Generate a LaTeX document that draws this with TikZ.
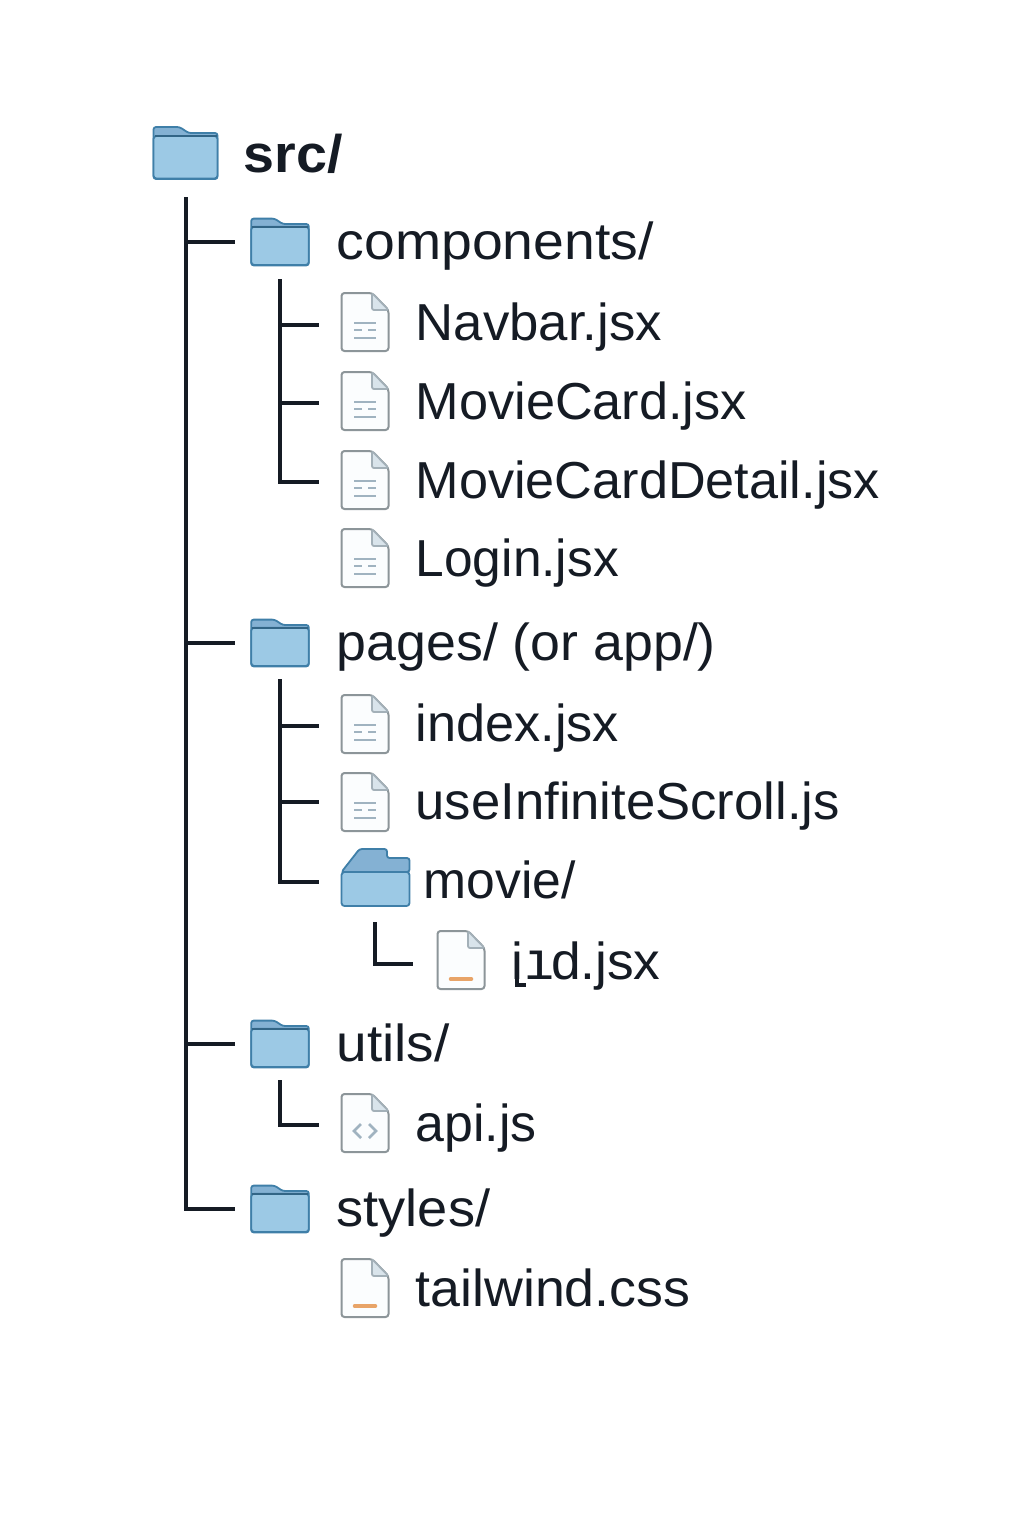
\documentclass[tikz,border=0pt]{standalone}
\usepackage{fontspec}
\setmainfont{Liberation Sans}
\newfontfamily\monof{DejaVu Sans Mono}
\definecolor{ink}{HTML}{151B24}
\definecolor{foldA}{HTML}{9CC9E5}
\definecolor{foldB}{HTML}{84B1D3}
\definecolor{foldE}{HTML}{3F7FA8}
\definecolor{fileE}{HTML}{8C9599}
\definecolor{fileF}{HTML}{FBFDFE}
\definecolor{dogE}{HTML}{A3B0B8}
\definecolor{dogF}{HTML}{D9E4EB}
\definecolor{lineC}{HTML}{A0B3C0}
\definecolor{orangeC}{HTML}{E8A468}
\tikzset{
  x=1pt,y=-1pt,
  tree/.style={draw=ink,line width=3.1pt,line cap=butt,line join=miter},
  lab/.style={anchor=base west,inner sep=0pt,text=ink,font=\fontsize{52}{52}\selectfont,transform shape,xscale=#1},
  lab/.default=1,
  fileslot/.style={inner sep=0pt,minimum width=48pt,minimum height=58pt},
  folderslot/.style={inner sep=0pt,minimum width=59pt,minimum height=47pt},
  pics/folderic/.style={code={
    \fill[foldB,draw=foldE,line width=1.8pt,rounded corners=2.5pt]
      (-32,26) -- (-32,-26) -- (-6,-26) -- (3,-20) -- (32,-20) -- (32,26) -- cycle;
    \fill[foldA,draw=foldE,line width=1.8pt,rounded corners=3pt]
      (-32,-17) -- (32,-17) -- (32,25.5) -- (-32,25.5) -- cycle;
    \draw[foldE!80!black,line width=1.6pt] (-31,-17) -- (31,-17);
  }},
  pics/openfolderic/.style={code={
    \fill[foldB,draw=foldE,line width=1.8pt,rounded corners=2.5pt]
      (-34,-6) -- (-16,-29) -- (11.5,-29) -- (11.5,-20) -- (34,-20) -- (34,-6) -- cycle;
    \fill[foldA,draw=foldE,line width=1.8pt,rounded corners=3pt]
      (-34,-6) -- (34,-6) -- (34,28) -- (-34,28) -- cycle;
  }},
  pics/filebody/.style={code={
    \fill[fileF,draw=fileE,line width=2pt,rounded corners=3pt]
      (-23.5,-29) -- (7,-29) -- (23.5,-12) -- (23.5,29) -- (-23.5,29) -- cycle;
    \fill[dogF,draw=dogE,line width=1.8pt,rounded corners=2pt]
      (7,-29) -- (7,-12) -- (23.5,-12) -- cycle;
  }},
  pics/linesmark/.style={code={
    \draw[lineC,line width=2.8pt] (-11,1) -- (11,1) (-11,8) -- (-3,8) (3,8) -- (11,8) (-11,16) -- (11,16);
  }},
  pics/codemark/.style={code={
    \draw[lineC,line width=2.8pt] (-4,1) -- (-11,8) -- (-4,15) (4,1) -- (11,8) -- (4,15);
  }},
  pics/dashmark/.style={code={
    \draw[orangeC,line width=3.5pt,line cap=round] (-10.5,18) -- (10.5,18);
  }},
}
\begin{document}
\begin{tikzpicture}
\useasboundingbox (0,0) rectangle (1024,1536);
\fill[white] (0,0) rectangle (1024,1536);
% folders
\node[folderslot,minimum width=66pt,minimum height=52pt] (src) at (185.5,153) {};
\pic at (src) {folderic};
\foreach \n/\y in {fc/242,fp/643,fu/1044,fs/1209}{
  \node[folderslot] (\n) at (280,\y) {};
  \pic[scale=0.9] at (\n) {folderic};
}
\node[inner sep=0pt,minimum width=69pt,minimum height=58pt] (fm) at (375.5,878) {};
\pic at (fm) {openfolderic};
% files
\foreach \n/\y/\d in {nav/322/linesmark,card/401/linesmark,detail/480/linesmark,login/558/linesmark,idx/724/linesmark,scroll/802/linesmark,api/1123/codemark,tail/1288/dashmark}{
  \node[fileslot] (\n) at (365,\y) {};
  \pic at (\n) {filebody};
  \pic at (\n) {\d};
}
\node[fileslot] (idfile) at (461,960) {};
\pic at (idfile) {filebody};
\pic[yshift=-1pt] at (idfile) {dashmark};
% labels
\node[lab=1.05,font=\fontsize{53}{53}\selectfont\bfseries] (tsrc) at (243.5,172) {src/};
\node[lab=1.065] at (336.5,259) (tc) {components/};
\node[lab=1.014] at (415.5,340) (t1) {Navbar.jsx};
\node[lab=1.005] at (415.5,419) (t2) {MovieCard.jsx};
\node[lab=1.004] at (415.5,498) (t3) {MovieCardDetail.jsx};
\node[lab=0.99] at (415.5,576) (t4) {Login.jsx};
\node[lab=1.033] at (336.5,660) (tp) {pages/ (or app/)};
\node[lab=1.005] at (415.5,741) (t5) {index.jsx};
\node[lab=1.012] at (415.5,819) (t6) {useInfiniteScroll.js};
\node[lab=0.993] at (423.5,898) (tm) {movie/};
\node[lab=1.025] at (511,979) (t7) {i{\monof ı}\kern-4pt d.jsx};
\draw[ink,line width=3.6pt] (517,972) -- (517,985) -- (526,985);
\node[lab=1.057] at (336.5,1061) (tu) {utils/};
\node[lab=0.997] at (415.5,1141) (t8) {api.js};
\node[lab=1.042] at (336.5,1226) (ts) {styles/};
\node[lab=1.033] at (415.5,1306) (t9) {tailwind.css};
% tree
\coordinate (rootTop) at (186,197);
\coordinate (compTop) at (280,279);
\coordinate (pageTop) at (280,679);
\coordinate (movieTop) at (375,922);
\coordinate (utilTop) at (280,1080);
\coordinate (navE) at ([xshift=-22pt,yshift=-3pt]nav.west);
\coordinate (cardE) at ([xshift=-22pt,yshift=-2pt]card.west);
\coordinate (detailE) at ([xshift=-22pt,yshift=-2pt]detail.west);
\coordinate (idxE) at ([xshift=-22pt,yshift=-2pt]idx.west);
\coordinate (scrollE) at ([xshift=-22pt]scroll.west);
\coordinate (fmE) at ([xshift=-22pt,yshift=-4pt]fm.west);
\coordinate (idE) at ([xshift=-24pt,yshift=-4pt]idfile.west);
\coordinate (apiE) at ([xshift=-22pt,yshift=-2pt]api.west);
\draw[tree] (rootTop) -- (rootTop |- fs) -- ([xshift=-15.5pt]fs.west);
\foreach \n in {fc,fp,fu} \draw[tree] (rootTop |- \n) -- ([xshift=-15.5pt]\n.west);
\draw[tree] (compTop) -- (compTop |- detailE) -- (detailE);
\foreach \n in {navE,cardE} \draw[tree] (compTop |- \n) -- (\n);
\draw[tree] (pageTop) -- (pageTop |- fmE) -- (fmE);
\foreach \n in {idxE,scrollE} \draw[tree] (pageTop |- \n) -- (\n);
\draw[tree] (movieTop) -- (movieTop |- idE) -- (idE);
\draw[tree] (utilTop) -- (utilTop |- apiE) -- (apiE);
\end{tikzpicture}
\end{document}
